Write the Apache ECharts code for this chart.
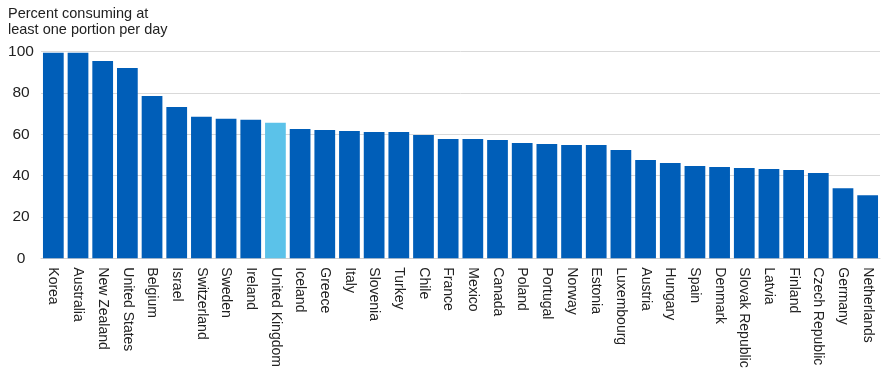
<!DOCTYPE html>
<html>
<head>
<meta charset="utf-8">
<script src="https://cdn.jsdelivr.net/npm/echarts@6/dist/echarts.min.js"></script>
<style>
  html, body { margin: 0; padding: 0; background: #fff; }
  #chart { width: 887px; height: 384px; }
</style>
</head>
<body>
<div id="chart"></div>
<script>
var countries = ['Korea', 'Australia', 'New Zealand', 'United States', 'Belgium', 'Israel',
    'Switzerland', 'Sweden', 'Ireland', 'United Kingdom', 'Iceland', 'Greece', 'Italy',
    'Slovenia', 'Turkey', 'Chile', 'France', 'Mexico', 'Canada', 'Poland', 'Portugal',
    'Norway', 'Estonia', 'Luxembourg', 'Austria', 'Hungary', 'Spain', 'Denmark',
    'Slovak Republic', 'Latvia', 'Finland', 'Czech Republic', 'Germany', 'Netherlands'];
var percents = [99.4, 99.4, 95.4, 92.0, 78.5, 73.2,
    68.4, 67.5, 67.0, 65.6, 62.5, 62.0, 61.6,
    61.1, 61.1, 59.6, 57.7, 57.7, 57.2, 55.8, 55.3,
    54.8, 54.8, 52.4, 47.5, 46.1, 44.6, 44.1,
    43.7, 43.2, 42.7, 41.2, 33.9, 30.5];
var highlight = 'United Kingdom';
var yTicks = [0, 20, 40, 60, 80, 100];

var barData = [];
for (var i = 0; i < countries.length; i++) {
    barData.push({
        value: percents[i],
        itemStyle: { color: countries[i] == highlight ? '#5bc2e9' : '#005eb8' }
    });
}

var chart = echarts.init(document.getElementById('chart'));
var option = {
    animation: false,
    title: {
        text: 'Percent consuming at\nleast one portion per day',
        left: 8,
        top: 6,
        padding: 0,
        textStyle: {
            fontFamily: 'Liberation Sans, Arial, sans-serif',
            fontSize: 14.5,
            fontWeight: 'normal',
            color: '#222',
            lineHeight: 16
        }
    },
    grid: {
        left: 41,
        right: 7,
        top: 51.5,
        bottom: 125.7
    },
    xAxis: {
        type: 'category',
        data: countries,
        axisTick: { show: false },
        axisLine: { lineStyle: { color: '#d0d0d0', width: 1 } },
        axisLabel: {
            rotate: -90,
            interval: 0,
            margin: 9,
            fontFamily: 'Liberation Sans, Arial, sans-serif',
            fontSize: 14,
            color: '#222'
        }
    },
    yAxis: {
        type: 'value',
        min: yTicks[0],
        max: yTicks[yTicks.length - 1],
        interval: 20,
        axisLine: { show: false },
        axisTick: { show: false },
        splitLine: { lineStyle: { color: '#d9d9d9', width: 1 } },
        axisLabel: {
            margin: 20,
            align: 'center',
            fontFamily: 'Liberation Sans, Arial, sans-serif',
            fontSize: 15.5,
            color: '#222'
        }
    },
    series: [{
        type: 'bar',
        data: barData,
        barCategoryGap: '16%'
    }]
};
chart.setOption(option);
</script>
</body>
</html>
